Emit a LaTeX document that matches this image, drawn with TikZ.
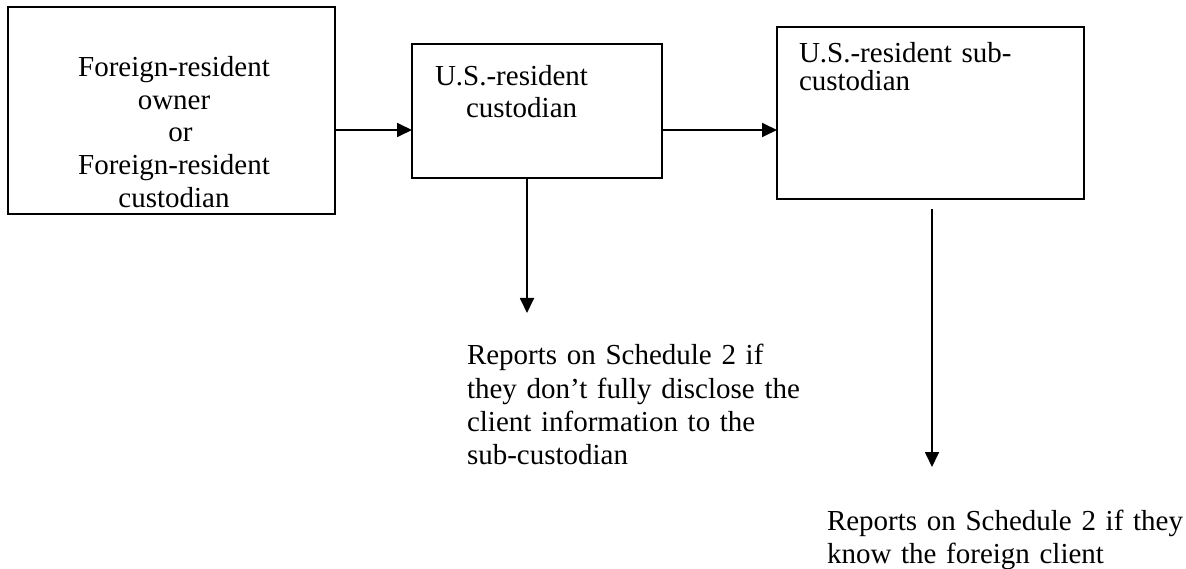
\documentclass[tikz,border=0pt]{standalone}
\usepackage{fontspec}
\setmainfont{Liberation Serif}
\usetikzlibrary{arrows.meta}
\begin{document}
\begin{tikzpicture}[x=1pt,y=-1pt,
  box/.style={draw=black,line width=2.1pt,rectangle,inner sep=0pt,outer sep=0pt},
  arr/.style={draw=black,line width=1.8pt,-{Triangle[length=15pt,width=14pt]}},
  txt/.style={inner sep=0pt,outer sep=0pt,font=\fontsize{29}{33}\selectfont},
  ltxt/.style={txt,text width=420pt,align=left,anchor=base west}]
\useasboundingbox[fill=white] (0,0) rectangle (1186,569);
% boxes
\node[box,minimum width=327pt,minimum height=207pt] (b1) at (171.5,110.5) {};
\node[box,minimum width=250pt,minimum height=134pt] (b2) at (537,111) {};
\node[box,minimum width=307pt,minimum height=172pt] (b3) at (930.5,113) {};
% texts
\node[txt,text width=300pt,align=center,anchor=base,font=\fontsize{29}{32.65}\selectfont] (tb1) at (174,76.7)
  {Foreign-resident\\owner\\\hspace*{13pt}or\\Foreign-resident\\custodian};
\node[ltxt,font=\fontsize{29}{32}\selectfont] (tb2) at (435,86) {U.S.-resident\\\hspace*{31pt}custodian};
\node[ltxt,font=\fontsize{29}{28.5}\selectfont] (tb3) at (799,62.3) {U.S.-resident sub-\\custodian};
\node[ltxt,font=\fontsize{29}{33.3}\selectfont] (r1) at (467,364.7)
  {Reports on Schedule 2 if\\they don’t fully disclose the\\client information to the\\sub-custodian};
\node[ltxt] (r2) at (827,530) {Reports on Schedule 2 if they\\know the foreign client};
% connectors
\coordinate (ay) at (0,130);
\coordinate (t1) at (527,313);
\coordinate (s2) at (932,209);
\coordinate (t2) at (932,467);
\draw[arr] (b1.east |- ay) -- (b2.west |- ay);
\draw[arr] (b2.east |- ay) -- (b3.west |- ay);
\draw[arr] (b2.south -| t1) -- (t1);
\draw[arr] (s2) -- (t2);
\end{tikzpicture}
\end{document}
